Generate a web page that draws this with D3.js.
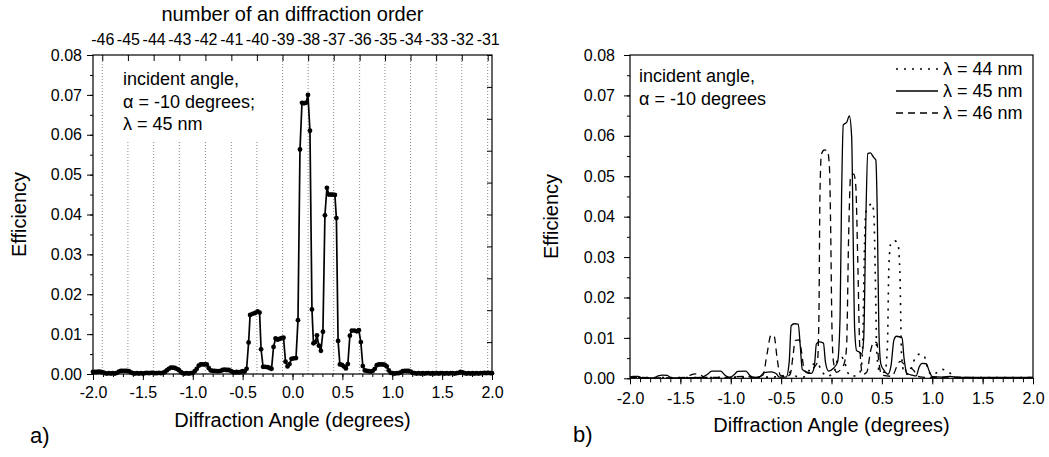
<!DOCTYPE html>
<html>
<head>
<meta charset="utf-8">
<script src="https://cdn.jsdelivr.net/npm/d3@7"></script>
<style>
  body { margin: 0; background: #fff; }
  svg { font-family: "Liberation Sans", Arial, sans-serif; }
  .axis path { display: none; }
  .axis line { stroke: #000; stroke-width: 1; }
  .axis text { font-size: 16px; fill: #000; font-family: "Liberation Sans", Arial, sans-serif; }
</style>
</head>
<body>
<svg id="chart" width="1049" height="457"></svg>
<script>
(function(){
  // ---- data ----
  const xTicks = [-2, -1.5, -1, -0.5, 0, 0.5, 1, 1.5, 2];
  const yTicks = [0, 0.01, 0.02, 0.03, 0.04, 0.05, 0.06, 0.07, 0.08];
  const orderNumbers = [-46, -45, -44, -43, -42, -41, -40, -39, -38, -37, -36, -35, -34, -33, -32, -31];
  const orderAngles = [-1.907, -1.650, -1.392, -1.135, -0.873, -0.613, -0.357, -0.100,
                        0.157, 0.413, 0.673, 0.927, 1.183, 1.440, 1.697, 1.957];

  // panel a) : lambda = 45 nm, measured points
  const effA45 = [
    [-2.00,0.0005],[-1.98,0.0005],[-1.96,0.0005],[-1.94,0.0006],[-1.92,0.0005],[-1.90,0.0004],[-1.88,0.0002],[-1.86,0.0001],
    [-1.84,0.0002],[-1.82,0.0001],[-1.80,0.0002],[-1.78,0.0001],[-1.76,0.0003],[-1.74,0.0006],[-1.72,0.0008],[-1.70,0.0008],
    [-1.68,0.0008],[-1.66,0.0008],[-1.64,0.0007],[-1.62,0.0004],[-1.60,0.0002],[-1.58,0.0001],[-1.56,0.0002],[-1.54,0.0001],
    [-1.52,0.0002],[-1.50,0.0001],[-1.48,0.0002],[-1.46,0.0003],[-1.44,0.0002],[-1.42,0.0003],[-1.40,0.0003],[-1.38,0.0002],
    [-1.36,0.0002],[-1.34,0.0003],[-1.32,0.0002],[-1.30,0.0003],[-1.28,0.0005],[-1.26,0.0009],[-1.24,0.0013],[-1.22,0.0016],
    [-1.20,0.0016],[-1.18,0.0015],[-1.16,0.0013],[-1.14,0.0010],[-1.12,0.0005],[-1.10,0.0002],[-1.08,0.0001],[-1.06,0.0002],
    [-1.04,0.0001],[-1.02,0.0002],[-1.00,0.0003],[-0.98,0.0007],[-0.96,0.0013],[-0.94,0.0021],[-0.92,0.0024],[-0.90,0.0024],
    [-0.88,0.0024],[-0.86,0.0024],[-0.84,0.0015],[-0.82,0.0009],[-0.80,0.0008],[-0.78,0.0008],[-0.76,0.0007],[-0.74,0.0007],
    [-0.72,0.0008],[-0.70,0.0010],[-0.68,0.0011],[-0.66,0.0010],[-0.64,0.0010],[-0.62,0.0008],[-0.60,0.0005],[-0.58,0.0004],
    [-0.56,0.0005],[-0.54,0.0004],[-0.52,0.0005],[-0.50,0.0007],[-0.48,0.0006],
    [-0.46,0.0013],[-0.44,0.0079],[-0.425,0.0148],[-0.40,0.0151],[-0.375,0.0153],[-0.35,0.0157],[-0.33,0.0154],[-0.315,0.0062],
    [-0.295,0.0018],[-0.275,0.0018],[-0.25,0.0017],[-0.23,0.0015],[-0.21,0.0013],[-0.19,0.0068],[-0.17,0.0089],[-0.15,0.0086],
    [-0.13,0.0088],[-0.11,0.0090],[-0.09,0.0091],[-0.07,0.0031],[-0.05,0.0019],[-0.03,0.0025],[-0.01,0.0038],[0.01,0.0039],
    [0.035,0.0040],[0.055,0.0135],[0.075,0.0563],[0.095,0.0680],[0.115,0.0679],[0.135,0.0680],[0.155,0.0700],[0.175,0.0610],
    [0.195,0.0162],[0.21,0.0077],[0.228,0.0080],[0.245,0.0097],[0.265,0.0071],[0.285,0.0058],[0.305,0.0106],[0.325,0.0398],
    [0.345,0.0467],[0.365,0.0450],[0.385,0.0450],[0.405,0.0450],[0.425,0.0449],[0.44,0.0391],[0.457,0.0083],[0.475,0.0024],
    [0.495,0.0023],[0.515,0.0019],[0.535,0.0014],[0.555,0.0025],[0.575,0.0096],[0.595,0.0109],[0.62,0.0109],[0.645,0.0107],
    [0.665,0.0110],[0.685,0.0080],[0.705,0.0020],[0.725,0.0009],
    [0.745,0.0008],[0.765,0.0007],[0.785,0.0006],[0.805,0.0008],[0.825,0.0013],[0.845,0.0022],[0.865,0.0024],[0.885,0.0024],
    [0.905,0.0024],[0.925,0.0023],[0.945,0.0019],[0.965,0.0009],[0.985,0.0003],[1.005,0.0002],[1.025,0.0001],[1.045,0.0002],
    [1.065,0.0002],[1.085,0.0004],[1.105,0.0007],[1.125,0.0008],[1.145,0.0008],[1.165,0.0008],[1.185,0.0006],[1.205,0.0003],
    [1.225,0.0002],[1.245,0.0001],[1.265,0.0002],[1.285,0.0001],[1.305,0.0002],[1.325,0.0001],[1.345,0.0002],[1.365,0.0002],
    [1.385,0.0001],[1.405,0.0002],[1.425,0.0001],[1.445,0.0002],[1.465,0.0001],[1.485,0.0002],[1.505,0.0002],[1.525,0.0001],
    [1.545,0.0002],[1.565,0.0001],[1.585,0.0002],[1.605,0.0002],[1.625,0.0001],[1.645,0.0002],[1.665,0.0003],[1.685,0.0005],
    [1.705,0.0004],[1.725,0.0002],[1.745,0.0001],[1.765,0.0002],[1.785,0.0001],[1.805,0.0002],[1.825,0.0001],[1.845,0.0002],
    [1.865,0.0001],[1.885,0.0002],[1.905,0.0002],[1.925,0.0003],[1.945,0.0002],[1.965,0.0003],[1.985,0.0002],[2.00,0.0002]
  ];

  // panel b) : three wavelengths
  const effB44 = [
    [-2.00,0.0002],[-1.50,0.0002],[-1.20,0.0002],[-0.90,0.0003],[-0.60,0.0003],[-0.45,0.0008],[-0.40,0.0016],[-0.35,0.0005],
    [-0.28,0.0003],[-0.22,0.0020],[-0.18,0.0035],[-0.14,0.0037],[-0.10,0.0020],[-0.05,0.0005],[0.02,0.0012],[0.06,0.0045],
    [0.10,0.0052],[0.13,0.0040],[0.16,0.0015],[0.20,0.0005],[0.26,0.0008],[0.29,0.0020],[0.31,0.0080],[0.325,0.0300],
    [0.34,0.0410],[0.37,0.0425],[0.40,0.0433],[0.42,0.0410],[0.435,0.0250],[0.45,0.0060],[0.48,0.0015],[0.53,0.0015],
    [0.555,0.0080],[0.57,0.0280],[0.59,0.0335],[0.63,0.0340],[0.66,0.0332],[0.68,0.0250],[0.695,0.0060],[0.72,0.0015],
    [0.76,0.0010],[0.80,0.0030],[0.84,0.0055],[0.88,0.0060],[0.92,0.0055],[0.96,0.0020],[1.00,0.0008],[1.05,0.0015],
    [1.10,0.0022],[1.15,0.0018],[1.20,0.0008],[1.25,0.0002],[1.50,0.0002],[2.00,0.0002]
  ];
  const effB45 = [
    [-2.00,0.0003],[-1.97,0.0005],[-1.92,0.0005],[-1.88,0.0001],[-1.76,0.0001],[-1.72,0.0006],[-1.68,0.0008],[-1.63,0.0007],
    [-1.59,0.0001],[-1.45,0.0001],[-1.30,0.0002],[-1.23,0.0010],[-1.19,0.0018],[-1.10,0.0018],[-1.06,0.0008],[-1.01,0.0002],
    [-0.97,0.0008],[-0.93,0.0017],[-0.85,0.0018],[-0.81,0.0007],[-0.76,0.0002],[-0.71,0.0004],[-0.67,0.0014],[-0.60,0.0016],
    [-0.55,0.0012],[-0.52,0.0003],[-0.45,0.0003],[-0.42,0.0040],[-0.40,0.0130],[-0.37,0.0135],[-0.33,0.0134],[-0.31,0.0080],
    [-0.29,0.0022],[-0.25,0.0016],[-0.20,0.0012],[-0.17,0.0030],[-0.15,0.0085],[-0.12,0.0090],[-0.08,0.0087],[-0.06,0.0040],
    [-0.03,0.0018],[0.02,0.0025],[0.06,0.0040],[0.085,0.0150],[0.10,0.0450],[0.117,0.0627],[0.15,0.0633],[0.177,0.0649],
    [0.20,0.0598],[0.215,0.0350],[0.23,0.0120],[0.25,0.0068],[0.27,0.0066],[0.30,0.0060],[0.32,0.0100],[0.34,0.0380],
    [0.36,0.0556],[0.385,0.0558],[0.42,0.0546],[0.44,0.0540],[0.455,0.0400],[0.47,0.0120],[0.49,0.0035],[0.52,0.0020],
    [0.56,0.0010],[0.59,0.0030],[0.62,0.0095],[0.645,0.0104],[0.70,0.0100],[0.72,0.0050],[0.75,0.0012],[0.80,0.0008],
    [0.84,0.0006],[0.87,0.0028],[0.90,0.0037],[0.94,0.0036],[0.97,0.0018],[1.00,0.0004],[1.10,0.0003],[1.18,0.0005],
    [1.25,0.0002],[1.50,0.0002],[1.75,0.0002],[2.00,0.0002]
  ];
  const effB46 = [
    [-2.00,0.0002],[-1.90,0.0002],[-1.75,0.0001],[-1.45,0.0002],[-1.40,0.0008],[-1.35,0.0011],[-1.30,0.0008],[-1.25,0.0002],
    [-1.05,0.0002],[-0.95,0.0004],[-0.85,0.0005],[-0.75,0.0002],[-0.68,0.0008],[-0.64,0.0060],[-0.60,0.0107],[-0.57,0.0105],
    [-0.54,0.0050],[-0.51,0.0008],[-0.46,0.0003],[-0.41,0.0010],[-0.38,0.0060],[-0.36,0.0094],[-0.32,0.0095],[-0.30,0.0070],
    [-0.27,0.0020],[-0.23,0.0012],[-0.18,0.0025],[-0.14,0.0040],[-0.125,0.0150],[-0.115,0.0450],[-0.10,0.0555],[-0.07,0.0565],
    [-0.04,0.0563],[-0.02,0.0520],[-0.01,0.0400],[0.005,0.0120],[0.02,0.0040],[0.05,0.0015],[0.10,0.0025],[0.13,0.0040],
    [0.15,0.0080],[0.17,0.0350],[0.19,0.0500],[0.22,0.0505],[0.24,0.0480],[0.26,0.0300],[0.28,0.0080],[0.31,0.0010],
    [0.35,0.0015],[0.39,0.0070],[0.42,0.0090],[0.45,0.0088],[0.47,0.0040],[0.50,0.0008],[0.60,0.0005],[0.65,0.0030],
    [0.68,0.0042],[0.72,0.0035],[0.75,0.0010],[0.79,0.0025],[0.82,0.0018],[0.85,0.0006],[0.90,0.0003],[1.00,0.0002],
    [1.20,0.0003],[1.50,0.0001],[2.00,0.0002]
  ];
  const legendLabels = ['\u03bb = 44 nm', '\u03bb = 45 nm', '\u03bb = 46 nm'];

  const svg = d3.select('#chart');
  svg.append('rect').attr('width', 1049).attr('height', 457).attr('fill', '#fff');

  function toFixed(n) { return function(d) { return d.toFixed(n); }; }

  // ================= panel a) =================
  const xA = d3.scaleLinear().domain([-2, 2]).range([93, 492]);
  const yA = d3.scaleLinear().domain([0, 0.08]).range([374, 55]);
  const gA = svg.append('g');

  // dotted order lines
  gA.selectAll('.grid')
    .data(orderAngles)
    .enter().append('line')
    .attr('x1', d => xA(d)).attr('x2', d => xA(d))
    .attr('y1', 55).attr('y2', 374)
    .attr('stroke', '#888').attr('stroke-width', 1)
    .attr('stroke-dasharray', '1,2');

  // text box
  gA.append('rect').attr('x', 106).attr('y', 56).attr('width', 164).attr('height', 84).attr('fill', '#fff');
  const infoA = ['incident angle,', '\u03b1 = -10 degrees;', '\u03bb = 45 nm'];
  gA.selectAll('.info')
    .data(infoA)
    .enter().append('text')
    .attr('x', 123).attr('y', (d, i) => 85 + i * 22.5)
    .attr('font-size', 18)
    .text(d => d);

  const lineA = d3.line().x(d => xA(d[0])).y(d => yA(d[1]));
  gA.append('path')
    .datum(effA45)
    .attr('d', lineA)
    .attr('fill', 'none').attr('stroke', '#000').attr('stroke-width', 1.7);
  gA.selectAll('.pt')
    .data(effA45)
    .enter().append('circle')
    .attr('cx', d => xA(d[0])).attr('cy', d => yA(d[1]))
    .attr('r', 2.4).attr('fill', '#000');

  // axes
  gA.append('g').attr('class', 'axis').attr('transform', 'translate(0,374)')
    .call(d3.axisBottom(xA).tickValues(xA.ticks(40)).tickSize(3).tickFormat(''));
  gA.append('g').attr('class', 'axis').attr('transform', 'translate(0,374)')
    .call(d3.axisBottom(xA).tickValues(xTicks).tickSize(6).tickPadding(7).tickFormat(toFixed(1)));
  gA.append('g').attr('class', 'axis').attr('transform', 'translate(93,0)')
    .call(d3.axisLeft(yA).tickValues(yA.ticks(16)).tickSize(3).tickFormat(''));
  gA.append('g').attr('class', 'axis').attr('transform', 'translate(93,0)')
    .call(d3.axisLeft(yA).tickValues(yTicks).tickSize(6).tickPadding(5).tickFormat(toFixed(2)));
  // right side: unlabelled ten-division ticks, pointing inward
  const yARight = d3.scaleLinear().domain([0, 10]).range([374, 55]);
  gA.append('g').attr('class', 'axis').attr('transform', 'translate(492,0)')
    .call(d3.axisLeft(yARight).ticks(10).tickSize(5).tickFormat(''));
  // top: diffraction order
  gA.append('g').attr('class', 'axis').attr('transform', 'translate(0,55)')
    .call(d3.axisTop(xA).tickValues(orderAngles).tickSizeInner(-6).tickSizeOuter(0).tickPadding(10)
      .tickFormat((d, i) => String(orderNumbers[i])));

  gA.append('rect').attr('x', 93).attr('y', 55).attr('width', 399).attr('height', 319)
    .attr('fill', 'none').attr('stroke', '#000').attr('stroke-width', 1.2);

  gA.append('text').attr('x', 292.5).attr('y', 21).attr('text-anchor', 'middle')
    .attr('font-size', 20).text('number of an diffraction order');
  gA.append('text').attr('x', 292.5).attr('y', 427).attr('text-anchor', 'middle')
    .attr('font-size', 20).text('Diffraction Angle (degrees)');
  gA.append('text').attr('transform', 'translate(26,214.5) rotate(-90)').attr('text-anchor', 'middle')
    .attr('font-size', 20).text('Efficiency');
  gA.append('text').attr('x', 30).attr('y', 443).attr('font-size', 22).text('a)');

  // ================= panel b) =================
  const xB = d3.scaleLinear().domain([-2, 2]).range([630, 1033]);
  const yB = d3.scaleLinear().domain([0, 0.08]).range([378.3, 55]);
  const gB = svg.append('g');

  const seriesB = [
    { data: effB44, dash: '2,6', width: 1.6 },
    { data: effB45, dash: null, width: 1.3 },
    { data: effB46, dash: '7,5', width: 1.3 }
  ];
  const lineB = d3.line().curve(d3.curveMonotoneX).x(d => xB(d[0])).y(d => yB(d[1]));
  gB.selectAll('.series')
    .data(seriesB)
    .enter().append('path')
    .attr('d', d => lineB(d.data))
    .attr('fill', 'none').attr('stroke', '#000')
    .attr('stroke-width', d => d.width)
    .attr('stroke-dasharray', d => d.dash);

  gB.append('g').attr('class', 'axis').attr('transform', 'translate(0,378.3)')
    .call(d3.axisBottom(xB).tickValues(xB.ticks(40)).tickSize(4).tickFormat(''));
  gB.append('g').attr('class', 'axis').attr('transform', 'translate(0,378.3)')
    .call(d3.axisBottom(xB).tickValues(xTicks).tickSize(6).tickPadding(8).tickFormat(toFixed(1)));
  gB.append('g').attr('class', 'axis').attr('transform', 'translate(630,0)')
    .call(d3.axisLeft(yB).tickValues(yB.ticks(16)).tickSize(3).tickFormat(''));
  gB.append('g').attr('class', 'axis').attr('transform', 'translate(630,0)')
    .call(d3.axisLeft(yB).tickValues(yTicks).tickSize(6).tickPadding(9).tickFormat(toFixed(2)));

  gB.append('rect').attr('x', 630).attr('y', 55).attr('width', 403).attr('height', 323.3)
    .attr('fill', 'none').attr('stroke', '#000').attr('stroke-width', 1.2);

  const infoB = ['incident angle,', '\u03b1 = -10 degrees'];
  gB.selectAll('.info')
    .data(infoB)
    .enter().append('text')
    .attr('x', 639).attr('y', (d, i) => 82 + i * 22.5)
    .attr('font-size', 18)
    .text(d => d);

  const legend = gB.selectAll('.legend')
    .data(seriesB)
    .enter().append('g')
    .attr('transform', (d, i) => 'translate(0,' + (69 + i * 22) + ')');
  legend.append('line')
    .attr('x1', 896).attr('x2', 938).attr('y1', 0).attr('y2', 0)
    .attr('stroke', '#000').attr('stroke-width', d => d.width)
    .attr('stroke-dasharray', d => d.dash);
  legend.append('text')
    .attr('x', 943).attr('y', 5.5).attr('font-size', 18)
    .text((d, i) => legendLabels[i]);

  gB.append('text').attr('x', 831.5).attr('y', 432).attr('text-anchor', 'middle')
    .attr('font-size', 20).text('Diffraction Angle (degrees)');
  gB.append('text').attr('transform', 'translate(558,216.5) rotate(-90)').attr('text-anchor', 'middle')
    .attr('font-size', 20).text('Efficiency');
  gB.append('text').attr('x', 573).attr('y', 442).attr('font-size', 22).text('b)');
})();
</script>
</body>
</html>
